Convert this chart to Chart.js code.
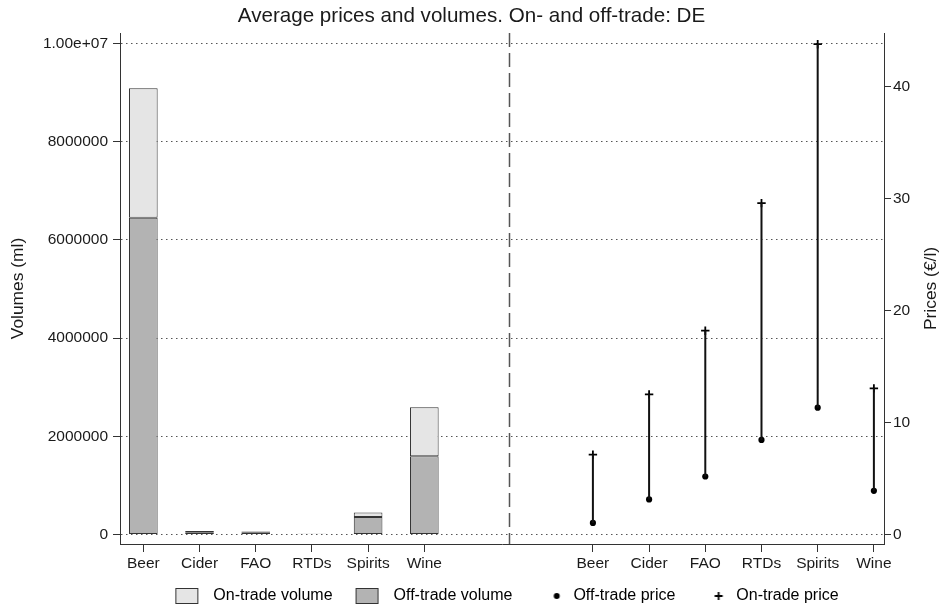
<!DOCTYPE html>
<html>
<head>
<meta charset="utf-8">
<script src="https://cdn.jsdelivr.net/npm/chart.js@4.4.1/dist/chart.umd.min.js"></script>
<style>
  html, body { margin: 0; padding: 0; background: #ffffff; }
  canvas { display: block; }
</style>
</head>
<body>
<canvas id="chart" width="943" height="611"></canvas>
<script>
// Beverage categories (shown in both panels)
const categories = ['Beer', 'Cider', 'FAO', 'RTDs', 'Spirits', 'Wine'];

// Volumes (ml)
const offTradeVolume = [6450000, 45000, 42000, 8000, 355000, 1590000];
const onTradeVolume  = [2640000, 22000, 16000, 6000, 90000, 1000000];

// Prices (€/l)
const offTradePrice = [1.02, 3.12, 5.17, 8.44, 11.32, 3.89];
const onTradePrice  = [7.13, 12.51, 18.2, 29.6, 43.8, 13.05];

// Axis ticks
const volumeTicks = [0, 2000000, 4000000, 6000000, 8000000, 10000000];
const priceTicks  = [0, 10, 20, 30, 40];

// Panel layout on a shared linear x axis: volumes at 0..5, prices at 8..13
const PRICE_SHIFT = 8;
const DIVIDER_X = 6.5;
const volumeX = categories.map((_, i) => i);
const priceX = categories.map((_, i) => i + PRICE_SHIFT);
const xTickValues = volumeX.concat(priceX);

const INK = '#1a1a1a';
const AXIS = '#333333';
const FONT = '"Liberation Sans", Arial, Helvetica, sans-serif';
const FS = 15.5;
const TITLE_FS = 17.4;
const LEGEND_FS = 16;
const LEGEND_PAD = 13;
const LEGEND_SLOT = 40;

Chart.defaults.font.family = FONT;
Chart.defaults.font.size = FS;
Chart.defaults.color = INK;

// vertical off-trade -> on-trade range for each category
const priceRange = [];
categories.forEach((_, i) => {
  priceRange.push({ x: priceX[i], y: offTradePrice[i] });
  priceRange.push({ x: priceX[i], y: onTradePrice[i] });
  priceRange.push({ x: priceX[i], y: null });
});

// legend symbols (drawn inside a 40px slot, centred on the legend box)
function boxIcon(fill) {
  const c = document.createElement('canvas');
  c.width = 40; c.height = 16;
  const g = c.getContext('2d');
  g.fillStyle = fill;
  g.fillRect(10.5, 0.5, 22, 15);
  g.strokeStyle = AXIS;
  g.lineWidth = 1;
  g.strokeRect(10.5, 0.5, 22, 15);
  return c;
}
function dotIcon() {
  const c = document.createElement('canvas');
  c.width = 40; c.height = 16;
  const g = c.getContext('2d');
  g.fillStyle = '#000';
  g.beginPath();
  g.arc(31.3, 8, 3, 0, Math.PI * 2);
  g.fill();
  return c;
}
function plusIcon() {
  const c = document.createElement('canvas');
  c.width = 40; c.height = 16;
  const g = c.getContext('2d');
  g.strokeStyle = '#000';
  g.lineWidth = 1.8;
  g.beginPath();
  g.moveTo(26.3, 8); g.lineTo(34.3, 8);
  g.moveTo(30.3, 4); g.lineTo(30.3, 12);
  g.stroke();
  return c;
}

const datasets = [
  {
    type: 'bar',
    label: 'Off-trade volume',
    data: volumeX.map((x, i) => ({ x, y: offTradeVolume[i] })),
    yAxisID: 'y',
    backgroundColor: '#b3b3b3',
    borderColor: AXIS,
    borderWidth: 1,
    borderSkipped: false,
    grouped: false,
    categoryPercentage: 1,
    barPercentage: 0.51
  },
  {
    type: 'bar',
    label: 'On-trade volume',
    data: volumeX.map((x, i) => ({ x, y: onTradeVolume[i] })),
    yAxisID: 'y',
    backgroundColor: '#e5e5e5',
    borderColor: AXIS,
    borderWidth: 1,
    borderSkipped: false,
    grouped: false,
    categoryPercentage: 1,
    barPercentage: 0.51
  },
  {
    type: 'line',
    label: '',
    data: priceRange,
    yAxisID: 'y2',
    borderColor: '#111111',
    borderWidth: 2,
    pointRadius: 0,
    spanGaps: false,
    fill: false
  },
  {
    type: 'line',
    label: 'Off-trade price',
    data: priceX.map((x, i) => ({ x, y: offTradePrice[i] })),
    yAxisID: 'y2',
    showLine: false,
    pointStyle: 'circle',
    pointRadius: 3.1,
    pointBackgroundColor: '#000',
    pointBorderColor: '#000',
    pointBorderWidth: 0
  },
  {
    type: 'line',
    label: 'On-trade price',
    data: priceX.map((x, i) => ({ x, y: onTradePrice[i] })),
    yAxisID: 'y2',
    showLine: false,
    pointStyle: 'cross',
    pointRadius: 4.2,
    pointBorderColor: '#000',
    pointBorderWidth: 1.8
  }
];

const legendOrder = [1, 0, 3, 4];
const legendIcons = { 1: boxIcon('#e5e5e5'), 0: boxIcon('#b3b3b3'), 3: dotIcon(), 4: plusIcon() };

// dashed divider between the two panels
const dividerPlugin = {
  id: 'divider',
  beforeDatasetsDraw(chart) {
    const { ctx, chartArea, scales } = chart;
    const px = Math.round(scales.x.getPixelForValue(DIVIDER_X)) + 0.5;
    ctx.save();
    ctx.strokeStyle = '#555555';
    ctx.lineWidth = 1.5;
    ctx.setLineDash([14, 6]);
    ctx.beginPath();
    ctx.moveTo(px, chartArea.top);
    ctx.lineTo(px, chartArea.bottom);
    ctx.stroke();
    ctx.restore();
  }
};

// right axis title, reading bottom-to-top like the left one
const rightTitlePlugin = {
  id: 'rightTitle',
  afterDraw(chart) {
    const { ctx, chartArea, scales } = chart;
    const s = scales.y2;
    ctx.save();
    ctx.translate(s.right - 11.3, (chartArea.top + chartArea.bottom) / 2);
    ctx.rotate(-Math.PI / 2);
    ctx.font = TITLE_FS + 'px ' + FONT;
    ctx.fillStyle = INK;
    ctx.textAlign = 'center';
    ctx.textBaseline = 'middle';
    ctx.fillText('Prices (€/l)', 0, 0);
    ctx.restore();
  }
};

new Chart(document.getElementById('chart'), {
  type: 'bar',
  data: { datasets },
  plugins: [dividerPlugin, rightTitlePlugin],
  options: {
    responsive: false,
    devicePixelRatio: 1,
    animation: false,
    layout: { padding: { top: 0, left: 0, right: 0, bottom: -3 } },
    plugins: {
      tooltip: { enabled: false },
      title: {
        display: true,
        text: 'Average prices and volumes. On- and off-trade: DE',
        color: INK,
        font: { size: 20.6, weight: 'normal' },
        padding: { top: 4, bottom: 4.3 }
      },
      legend: {
        position: 'bottom',
        fullSize: false,
        labels: {
          usePointStyle: true,
          pointStyleWidth: LEGEND_SLOT,
          padding: LEGEND_PAD,
          color: INK,
          font: { size: LEGEND_FS },
          generateLabels: () => legendOrder.map(i => ({
            text: datasets[i].label,
            datasetIndex: i,
            pointStyle: legendIcons[i],
            fillStyle: '#000',
            strokeStyle: '#000',
            lineWidth: 0,
            hidden: false
          }))
        }
      }
    },
    scales: {
      x: {
        type: 'linear',
        offset: false,
        min: -0.415,
        max: 13.18,
        afterBuildTicks: s => { s.ticks = xTickValues.map(v => ({ value: v })); },
        afterFit: s => { s.height = 31; },
        ticks: {
          autoSkip: false,
          maxRotation: 0,
          padding: 2,
          color: INK,
          callback: v => categories[v >= PRICE_SHIFT ? v - PRICE_SHIFT : v]
        },
        grid: { offset: false, drawOnChartArea: false, drawTicks: true, tickLength: 8, tickColor: AXIS, tickWidth: 1 },
        border: { display: true, color: AXIS, width: 1 }
      },
      y: {
        type: 'linear',
        position: 'left',
        stacked: true,
        min: -195600,
        max: 10214000,
        afterBuildTicks: s => { s.ticks = volumeTicks.map(v => ({ value: v })); },
        afterFit: s => { s.width = 120; },
        ticks: {
          padding: 5,
          color: INK,
          callback: v => (v === 10000000 ? '1.00e+07' : String(v))
        },
        title: {
          display: true,
          text: 'Volumes (ml)',
          color: INK,
          font: { size: TITLE_FS },
          padding: { top: 7.6, bottom: 0 }
        },
        grid: {
          drawOnChartArea: true,
          drawTicks: true,
          tickLength: 7,
          color: '#555555',
          lineWidth: 1,
          tickColor: AXIS,
          tickWidth: 1,
          tickBorderDash: []
        },
        border: { display: true, color: AXIS, width: 1, dash: [1.5, 3.5] }
      },
      y2: {
        type: 'linear',
        position: 'right',
        stacked: false,
        min: -0.86,
        max: 44.8,
        afterBuildTicks: s => { s.ticks = priceTicks.map(v => ({ value: v })); },
        afterFit: s => { s.width = 59; },
        ticks: { padding: 2, color: INK },
        grid: { drawOnChartArea: false, drawTicks: true, tickLength: 7, tickColor: AXIS, tickWidth: 1 },
        border: { display: true, color: AXIS, width: 1 }
      }
    }
  }
});
</script>
</body>
</html>
